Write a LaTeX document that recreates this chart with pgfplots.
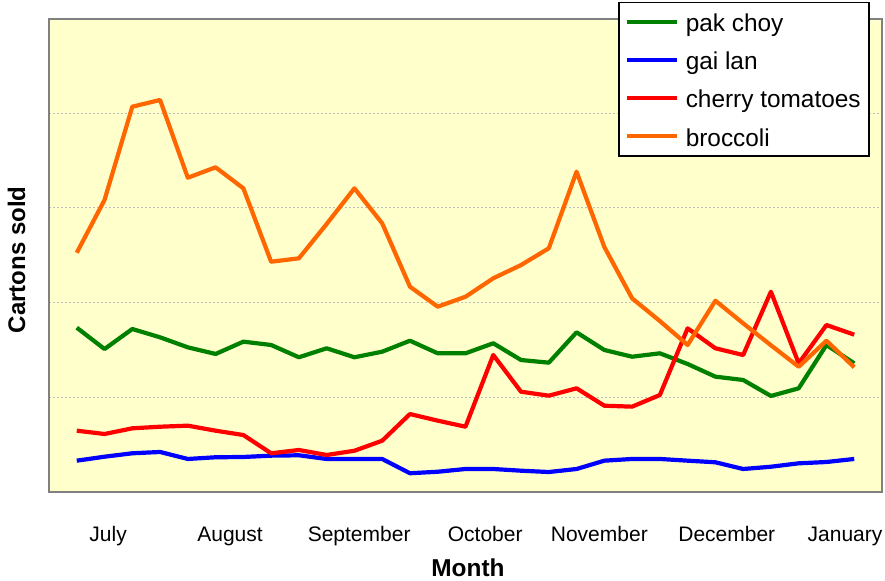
\documentclass[border=0pt]{standalone}
\usepackage{pgfplots}
\pgfplotsset{compat=1.18}
\usepackage{pgfplotstable}
\usepackage{fontspec}
\setmainfont{Liberation Sans}
\definecolor{bgyellow}{HTML}{FFFFCC}
\definecolor{cgreen}{HTML}{008000}
\definecolor{cblue}{HTML}{0000FF}
\definecolor{cred}{HTML}{FF0000}
\definecolor{corange}{HTML}{FF6600}
\definecolor{axgray}{HTML}{808080}
\definecolor{grgray}{HTML}{C0C0C0}

\pgfplotstableread{
i pak gai tom bro
0  173.4 32.8 64.5  252.6
1  150.8 37.0 61.0  308.4
2  172.0 40.6 67.0  407.0
3  163.2 42.0 68.7  414.1
4  152.6 34.6 69.8  331.9
5  145.6 36.4 64.5  342.9
6  158.6 36.7 59.9  320.7
7  155.1 38.1 40.6  243.1
8  142.1 38.5 44.1  246.7
9  151.6 34.6 38.8  283.0
10 142.1 34.6 43.3  320.7
11 148.0 34.6 53.9  283.7
12 159.6 19.5 82.1  216.7
13 146.3 21.1 75.1  195.6
14 146.3 24.0 68.7  206.1
15 156.9 24.0 144.5 225.6
16 139.2 22.2 105.7 239.6
17 136.4 20.8 101.5 257.3
18 168.5 24.0 109.3 338.3
19 149.8 32.8 90.9  258.7
20 142.7 34.6 89.9  204.4
21 146.3 34.6 102.2 180.4
22 135.0 32.8 172.7 155.1
23 121.6 31.1 151.6 201.9
24 118.1 24.0 144.5 178.0
25 101.2 26.4 211.4 154.8
26 109.3 30.0 135.7 132.1
27 155.1 31.4 176.2 159.6
28 135.7 34.6 166.0 131.5
}\datatable

\begin{document}
\begin{tikzpicture}
\path[use as bounding box] (-24.5pt,-44.15pt) rectangle (418pt,245.85pt);
\begin{axis}[
  at={(0,0)}, anchor=south west,
  width=416.5pt, height=236.5pt, scale only axis,
  xmin=-1, xmax=29, ymin=0, ymax=500,
  axis background/.style={fill=bgyellow},
  axis line style={draw=axgray, line width=0.8pt},
  ytick={0,100,200,300,400,500}, yticklabels={},
  ymajorgrids,
  grid style={draw=grgray, line width=0.5pt, dash pattern=on 1pt off 1pt},
  xtick={1.13,5.52,10.17,14.71,18.82,23.41,27.67},
  xticklabels={July,August,September,October,November,December,January},
  major tick length=0pt,
  xticklabel style={font=\fontsize{10.5}{12}\selectfont, anchor=base, yshift=-25pt},
  xlabel={Month},
  xlabel style={font=\fontsize{12.2}{14}\selectfont\bfseries, at={(axis description cs:0.503,0)}, anchor=base, yshift=-42.5pt},
  ylabel={Cartons sold},
  ylabel style={font=\fontsize{12}{14}\selectfont\bfseries, at={(axis description cs:-0.039,0.49)}, anchor=center},
  legend style={at={(axis description cs:0.985,1.036)}, anchor=north east,
    draw=black, line width=0.8pt, fill=white,
    font=\fontsize{12.2}{14}\selectfont,
    inner xsep=3pt, inner ysep=2.2pt, row sep=4.1pt, column sep=2.5pt,
    nodes={inner sep=1pt, text height=11.3pt, text depth=1.7pt}},
  legend cell align=left,
  legend image code/.code={\draw[#1, line width=2pt] (0pt,0pt) -- (25pt,0pt);},
  every axis plot/.append style={line width=2.1pt, line join=round, mark=none},
]
\addplot[cgreen] table[x=i, y=pak] {\datatable};
\addlegendentry{pak choy}
\addplot[cblue] table[x=i, y=gai] {\datatable};
\addlegendentry{gai lan}
\addplot[cred] table[x=i, y=tom] {\datatable};
\addlegendentry{cherry tomatoes}
\addplot[corange] table[x=i, y=bro] {\datatable};
\addlegendentry{broccoli}
\end{axis}
\end{tikzpicture}
\end{document}
